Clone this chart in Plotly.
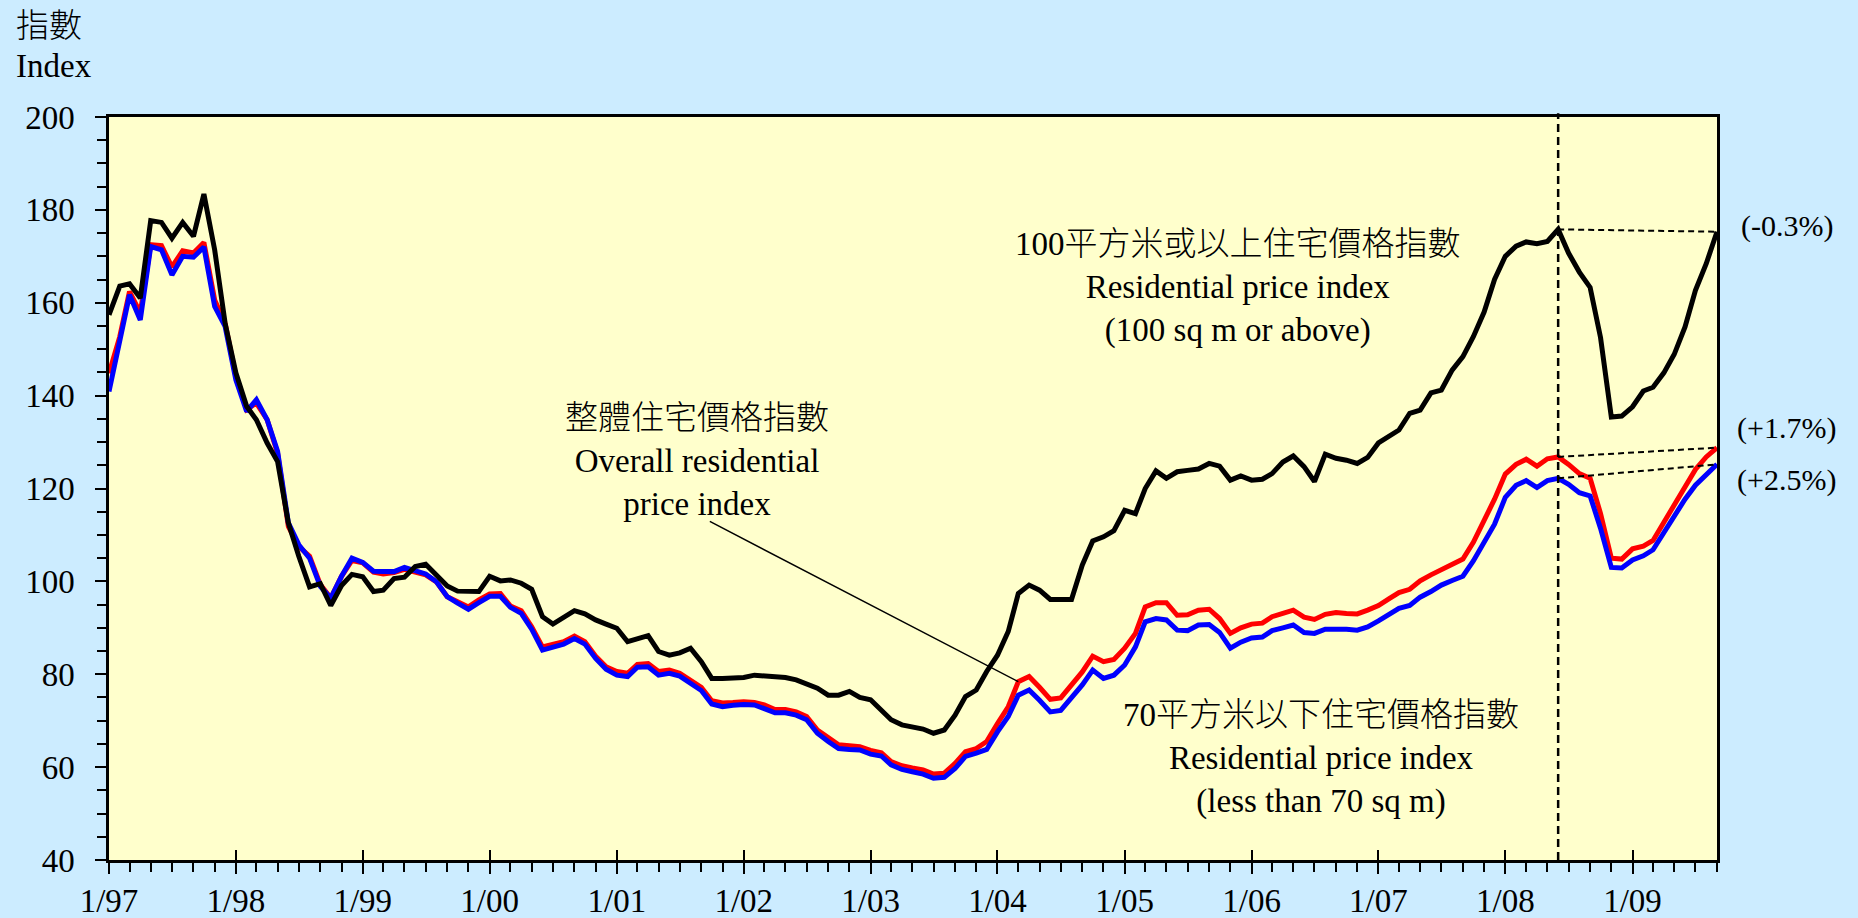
import pandas as pd
import plotly.graph_objects as go

# ---------------- data ----------------
months = [d.strftime("%Y-%m-%d") for d in pd.date_range("1997-01-01", periods=153, freq="MS")]

large_units = [  # 100 sq m or above (black)
    157.4, 163.6, 164.1, 161.0, 177.7, 177.3, 173.9, 177.3, 174.3, 183.4, 171.4, 155.6,
    144.9, 137.7, 134.8, 129.8, 125.8, 112.6, 105.4, 98.8, 99.5, 94.8, 99.1, 101.5,
    101.0, 97.8, 98.1, 100.6, 100.9, 103.2, 103.7, 101.4, 99.0, 97.9, 97.8, 97.8,
    101.1, 100.1, 100.3, 99.6, 98.3, 92.4, 90.8, 92.4, 93.7, 93.0, 91.7, 90.8,
    89.9, 87.0, 87.7, 88.3, 84.9, 84.1, 84.6, 85.6, 82.7, 79.1, 79.1, 79.3,
    79.3, 79.8, 79.6, 79.5, 79.3, 78.8, 78.0, 77.0, 75.5, 75.5, 76.3, 75.0,
    74.5, 72.3, 70.2, 69.1, 68.6, 68.2, 67.3, 68.0, 71.2, 75.2, 76.6, 80.6,
    84.1, 89.2, 97.4, 99.2, 98.1, 96.1, 96.1, 96.1, 103.5, 108.7, 109.6, 110.9,
    115.3, 114.6, 120.0, 123.8, 122.2, 123.6, 123.9, 124.2, 125.4, 124.8, 121.8, 122.7,
    121.8, 122.0, 123.2, 125.7, 127.0, 124.7, 121.5, 127.4, 126.5, 126.1, 125.4, 126.7,
    129.8, 131.3, 132.6, 136.2, 136.9, 140.6, 141.2, 145.5, 148.4, 152.7, 158.0, 165.0,
    170.0, 172.2, 173.1, 172.7, 173.2, 175.8, 170.7, 166.6, 163.3, 152.5, 135.4, 135.6,
    137.6, 141.0, 141.8, 144.9, 148.9, 154.8, 162.7, 168.4, 175.3,
]

overall = [  # overall residential price index (red)
    144.8, 152.7, 162.4, 157.8, 172.5, 172.3, 167.7, 171.2, 170.7, 173.0, 160.6, 155.6,
    144.1, 137.0, 138.4, 134.8, 127.6, 111.8, 107.5, 105.4, 99.3, 96.4, 101.1, 104.5,
    104.0, 102.0, 101.6, 101.9, 102.6, 102.1, 101.4, 99.9, 96.7, 95.6, 94.5, 96.0,
    97.3, 97.4, 94.7, 93.7, 90.2, 85.9, 86.5, 87.0, 88.2, 87.0, 83.9, 81.6,
    80.6, 80.2, 82.1, 82.3, 80.6, 80.9, 80.2, 78.6, 77.2, 74.3, 73.8, 73.9,
    74.1, 73.9, 73.4, 72.4, 72.4, 71.9, 70.9, 68.0, 66.2, 64.8, 64.6, 64.4,
    63.6, 63.1, 61.2, 60.3, 59.8, 59.4, 58.5, 58.7, 60.8, 63.3, 64.0, 65.5,
    69.4, 73.0, 78.4, 79.5, 77.2, 74.6, 74.9, 77.5, 80.5, 83.9, 82.7, 83.2,
    85.6, 88.8, 94.5, 95.4, 95.4, 92.7, 92.8, 93.8, 94.0, 92.0, 88.8, 90.0,
    90.8, 91.0, 92.4, 93.1, 93.8, 92.3, 91.8, 92.9, 93.3, 93.1, 93.0, 93.8,
    94.8, 96.3, 97.6, 98.3, 100.1, 101.4, 102.6, 103.7, 104.8, 108.4, 113.1, 117.7,
    123.1, 125.2, 126.3, 124.8, 126.4, 126.8, 125.2, 123.2, 122.2, 114.6, 105.0, 104.8,
    107.0, 107.6, 108.8, 112.8, 116.2, 120.7, 124.1, 126.8, 128.8,
]

small_units = [  # less than 70 sq m (blue)
    140.9, 151.3, 161.7, 156.3, 172.1, 171.4, 166.0, 170.0, 169.8, 172.0, 159.2, 154.9,
    143.4, 136.6, 139.1, 134.8, 128.0, 112.6, 107.9, 105.0, 98.9, 96.4, 101.1, 105.0,
    104.1, 102.2, 102.1, 102.1, 103.0, 102.3, 101.6, 99.9, 96.7, 95.3, 94.0, 95.4,
    96.8, 96.8, 94.4, 93.1, 89.7, 85.2, 85.9, 86.5, 87.7, 86.5, 83.4, 81.1,
    79.8, 79.5, 81.5, 81.6, 79.8, 80.2, 79.6, 78.0, 76.5, 73.6, 73.0, 73.3,
    73.5, 73.4, 72.7, 71.7, 71.7, 71.2, 70.2, 67.3, 65.5, 64.0, 63.8, 63.7,
    62.8, 62.4, 60.5, 59.5, 59.0, 58.5, 57.6, 57.8, 59.7, 62.3, 63.0, 63.8,
    67.6, 70.9, 75.5, 76.6, 74.4, 71.9, 72.2, 74.8, 77.7, 80.9, 79.1, 79.8,
    82.0, 85.9, 91.3, 92.0, 91.7, 89.5, 89.4, 90.6, 90.7, 89.0, 85.6, 86.9,
    87.8, 88.0, 89.4, 90.0, 90.6, 89.0, 88.8, 89.7, 89.8, 89.7, 89.5, 90.2,
    91.5, 92.8, 94.2, 94.8, 96.6, 97.8, 99.2, 100.2, 101.1, 104.4, 108.2, 112.3,
    118.1, 120.7, 121.7, 120.2, 121.7, 122.2, 120.9, 119.1, 118.4, 111.4, 103.0, 102.9,
    104.6, 105.5, 106.8, 110.5, 113.8, 117.7, 120.7, 123.1, 125.2,
]

tick_dates = [f"{y}-01-01" for y in range(1997, 2010)]
tick_labels = ["1/97", "1/98", "1/99", "1/00", "1/01", "1/02", "1/03",
               "1/04", "1/05", "1/06", "1/07", "1/08", "1/09"]

peak_idx = 137    # June 2008
latest_idx = 152  # September 2009
arrow_idx = 86    # point on the overall index the label arrow touches
pct_labels = ["(-0.3%)", "(+1.7%)", "(+2.5%)"]

FONT = "'Liberation Serif', 'Times New Roman', 'Noto Sans CJK TC', serif"

# ---------------- figure ----------------
fig = go.Figure()

fig.add_trace(go.Scatter(x=months, y=overall, mode="lines",
                         line=dict(color="#FF0000", width=5), showlegend=False))
fig.add_trace(go.Scatter(x=months, y=small_units, mode="lines",
                         line=dict(color="#0000FF", width=5), showlegend=False))
fig.add_trace(go.Scatter(x=months, y=large_units, mode="lines",
                         line=dict(color="#000000", width=5), showlegend=False))

# dashed connectors from mid-2008 peak to latest month
for series in (large_units, overall, small_units):
    fig.add_trace(go.Scatter(
        x=[months[peak_idx], months[latest_idx]],
        y=[series[peak_idx], series[latest_idx]],
        mode="lines", xaxis="x2", yaxis="y",
        line=dict(color="black", width=2, dash="6px,4px"), showlegend=False))

# vertical dashed line at the peak month
fig.add_shape(type="line", xref="x", yref="paper",
              x0=months[peak_idx], x1=months[peak_idx], y0=0, y1=1.005,
              line=dict(color="black", width=2.5, dash="8px,5px"), layer="above")

ann_font = dict(family=FONT, size=33, color="black", weight=300)
annotations = [
    dict(xref="paper", yref="paper", x=-0.059, y=1.122, xanchor="left", yanchor="middle",
         text="指數", showarrow=False, font=ann_font),
    dict(xref="paper", yref="paper", x=-0.059, y=1.068, xanchor="left", yanchor="middle",
         text="Index", showarrow=False, font=ann_font),
    dict(xref="paper", yref="paper", x=0.702, y=0.771, xanchor="center", yanchor="middle",
         text="100平方米或以上住宅價格指數<br>Residential price index<br>(100 sq m or above)",
         showarrow=False, font=ann_font),
    dict(xref="paper", yref="paper", x=0.3657, y=0.5368, xanchor="center", yanchor="middle",
         text="整體住宅價格指數<br>Overall residential<br>price index",
         showarrow=False, font=ann_font),
    dict(xref="paper", yref="paper", x=0.7537, y=0.1372, xanchor="center", yanchor="middle",
         text="70平方米以下住宅價格指數<br>Residential price index<br>(less than 70 sq m)",
         showarrow=False, font=ann_font),
    dict(x=months[arrow_idx], y=overall[arrow_idx], xref="x", yref="y", text="",
         showarrow=True, arrowhead=0, arrowwidth=1.5, arrowcolor="black",
         ax=-310, ay=-161, standoff=0),
]
pct_font = dict(family=FONT, size=30, color="black")
for lab, yp in zip(pct_labels, [0.8534, 0.5812, 0.5112]):
    annotations.append(dict(xref="paper", yref="paper", x=1.0435, y=yp,
                            xanchor="center", yanchor="middle", text=lab,
                            showarrow=False, font=pct_font))

fig.update_layout(
    width=1858, height=918,
    margin=dict(l=109, r=141, t=117, b=58, pad=0, autoexpand=False),
    paper_bgcolor="#CCECFF", plot_bgcolor="#FFFFCC",
    font=dict(family=FONT, size=33, color="black"),
    showlegend=False,
    annotations=annotations,
    xaxis=dict(
        type="date", range=[months[0], months[-1]], automargin=False,
        tickmode="array", tickvals=tick_dates, ticktext=tick_labels,
        ticks="outside", ticklen=11, tickwidth=1.5, tickcolor="black",
        showline=True, linewidth=2.5, linecolor="black", mirror=True,
        showgrid=False, zeroline=False, ticklabelstandoff=-1,
        tickfont=dict(family=FONT, size=33, color="black"),
        minor=dict(ticks="outside", ticklen=9, tickwidth=1.5, tickcolor="black",
                   tickmode="linear", tick0="1997-01-01", dtick="M2", showgrid=False),
    ),
    xaxis2=dict(
        type="date", overlaying="x", matches="x", anchor="y", side="bottom",
        tickmode="array", tickvals=tick_dates, automargin=False,
        ticks="inside", ticklen=10, tickwidth=1.5, tickcolor="black",
        showticklabels=False, showline=False, showgrid=False, zeroline=False,
    ),
    yaxis=dict(
        range=[40, 200], tickmode="linear", tick0=40, dtick=20, automargin=False,
        ticks="outside", ticklen=11, tickwidth=1.5, tickcolor="black",
        showline=True, linewidth=2.5, linecolor="black", mirror=True,
        showgrid=False, zeroline=False, ticklabelstandoff=14,
        tickfont=dict(family=FONT, size=33, color="black"),
        minor=dict(ticks="outside", ticklen=9, tickwidth=1.5, tickcolor="black",
                   tickmode="linear", tick0=40, dtick=5, showgrid=False),
    ),
)

fig.write_html("out.html", config={"displayModeBar": False},
               post_script="document.body.style.margin='0';")
